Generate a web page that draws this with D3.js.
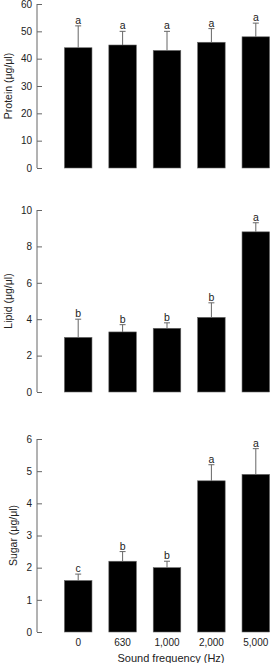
<!DOCTYPE html>
<html>
<head>
<meta charset="utf-8">
<script src="https://cdn.jsdelivr.net/npm/d3@7"></script>
<style>
  html, body { margin: 0; padding: 0; background: #fff; }
  svg text { font-family: "Liberation Sans", Arial, sans-serif; fill: #222; }
</style>
</head>
<body>
<div id="chart"></div>
<script>
const frequencies = ["0", "630", "1,000", "2,000", "5,000"];

const proteinMean = [44, 45, 43, 46, 48];
const proteinErr  = [8, 5, 7, 5, 5];
const proteinSig  = ["a", "a", "a", "a", "a"];

const lipidMean = [3.0, 3.3, 3.5, 4.1, 8.8];
const lipidErr  = [1.0, 0.4, 0.3, 0.8, 0.5];
const lipidSig  = ["b", "b", "b", "b", "a"];

const sugarMean = [1.6, 2.2, 2.0, 4.7, 4.9];
const sugarErr  = [0.2, 0.3, 0.2, 0.5, 0.8];
const sugarSig  = ["c", "b", "b", "a", "a"];

const panels = [
  { label: "Protein (μg/μl)", mean: proteinMean, err: proteinErr, sig: proteinSig, max: 60, ticks: [0, 10, 20, 30, 40, 50, 60], top: 4, bottom: 168, labelX: 8 },
  { label: "Lipid (μg/μl)", mean: lipidMean, err: lipidErr, sig: lipidSig, max: 10, ticks: [0, 2, 4, 6, 8, 10], top: 210, bottom: 392, labelX: 8 },
  { label: "Sugar (μg/μl)", mean: sugarMean, err: sugarErr, sig: sugarSig, max: 6, ticks: [0, 1, 2, 3, 4, 5, 6], top: 439, bottom: 632, labelX: 13 }
];

const width = 272, height = 663, axisX = 37;

const svg = d3.select("#chart").append("svg")
  .attr("width", width)
  .attr("height", height);

const x = d3.scaleBand()
  .domain(frequencies)
  .range([56, 278])
  .paddingInner(0.38)
  .paddingOuter(0.19);

panels.forEach(function(p, pi) {
  const y = d3.scaleLinear().domain([0, p.max]).range([p.bottom, p.top]);
  const g = svg.append("g");

  // y axis, ticks point inwards
  const axis = g.append("g")
    .attr("transform", "translate(" + axisX + ",0)")
    .call(d3.axisRight(y).tickValues(p.ticks).tickSize(5).tickFormat(d3.format("d")));
  axis.select(".domain").attr("stroke", "#666").attr("d", "M0," + y(0) + "V" + y(p.max));
  axis.selectAll(".tick line").attr("stroke", "#666");
  axis.selectAll(".tick text")
    .attr("x", -5)
    .attr("text-anchor", "end")
    .attr("font-size", 10)
    .attr("fill", "#222");

  g.append("text")
    .attr("transform", "translate(" + p.labelX + "," + (p.top + p.bottom) / 2 + ") rotate(-90)")
    .attr("text-anchor", "middle")
    .attr("dy", "0.35em")
    .attr("font-size", 10.5)
    .text(p.label);

  const idx = d3.range(frequencies.length);

  g.selectAll("rect.bar")
    .data(idx)
    .enter().append("rect")
    .attr("class", "bar")
    .attr("x", i => x(frequencies[i]))
    .attr("width", x.bandwidth())
    .attr("y", i => y(p.mean[i]))
    .attr("height", i => y(0) - y(p.mean[i]))
    .attr("fill", "#000")
    .attr("stroke", "#666")
    .attr("stroke-width", 0.6);

  const cx = i => x(frequencies[i]) + x.bandwidth() / 2;

  g.selectAll("line.err")
    .data(idx)
    .enter().append("line")
    .attr("class", "err")
    .attr("x1", cx).attr("x2", cx)
    .attr("y1", i => y(p.mean[i]))
    .attr("y2", i => y(p.mean[i] + p.err[i]))
    .attr("stroke", "#666")
    .attr("stroke-width", 1);

  g.selectAll("line.cap")
    .data(idx)
    .enter().append("line")
    .attr("class", "cap")
    .attr("x1", i => cx(i) - 3).attr("x2", i => cx(i) + 3)
    .attr("y1", i => y(p.mean[i] + p.err[i]))
    .attr("y2", i => y(p.mean[i] + p.err[i]))
    .attr("stroke", "#666")
    .attr("stroke-width", 1);

  g.selectAll("text.sig")
    .data(idx)
    .enter().append("text")
    .attr("class", "sig")
    .attr("x", cx)
    .attr("y", i => y(p.mean[i] + p.err[i]) - 2)
    .attr("text-anchor", "middle")
    .attr("font-size", 10.5)
    .text(i => p.sig[i]);

  if (pi === panels.length - 1) {
    g.selectAll("text.xlab")
      .data(frequencies)
      .enter().append("text")
      .attr("class", "xlab")
      .attr("x", d => x(d) + x.bandwidth() / 2)
      .attr("y", 646)
      .attr("text-anchor", "middle")
      .attr("font-size", 10)
      .text(d => d);

    g.append("text")
      .attr("x", 171)
      .attr("y", 662)
      .attr("text-anchor", "middle")
      .attr("font-size", 11)
      .text("Sound frequency (Hz)");
  }
});
</script>
</body>
</html>
